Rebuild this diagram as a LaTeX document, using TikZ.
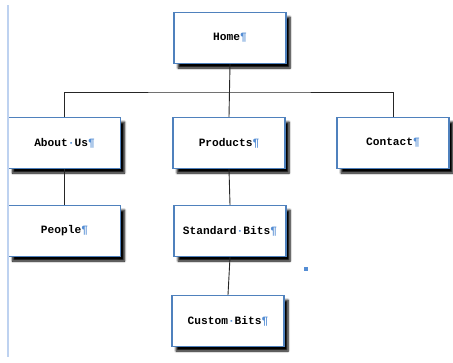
\documentclass[tikz,border=0pt]{standalone}
\usepackage{fontspec}
\setmonofont{Liberation Mono}
\usepackage{tikz}
\usetikzlibrary{shadows.blur}
\definecolor{boxblue}{RGB}{79,129,189}
\definecolor{markblue}{RGB}{84,141,212}
\definecolor{marginblue}{RGB}{190,210,240}
\newcommand{\spmark}{{\color{markblue}\textperiodcentered}}
\newcommand{\parmark}{{\color{markblue}\P}}

\begin{document}
\begin{tikzpicture}[x=1pt,y=-1pt,
    page/.style={draw=boxblue,line width=1.3pt,fill=white,minimum width=112pt,minimum height=51pt,
      font=\ttfamily\bfseries\fontsize{11.2}{13}\selectfont,
      blur shadow={shadow xshift=4pt,shadow yshift=-4.5pt,shadow blur radius=2pt,shadow opacity=100,shadow blur steps=6}},
    link/.style={line width=0.9pt,black!85}]
    \useasboundingbox (0,0) rectangle (453,362);
    \node[page] (home) at (230,38) {Home\parmark};
    \node[page] (about) at (64.5,143) {About\spmark Us\parmark};
    \node[page] (products) at (229,143) {Products\parmark};
    \node[page] (contact) at (393,143) {Contact\parmark};
    \node[page] (people) at (64.5,231) {People\parmark};
    \node[page] (standard) at (230,231) {Standard\spmark Bits\parmark};
    \node[page] (custom) at (228,321) {Custom\spmark Bits\parmark};
    \coordinate (bus) at (230,92);
    \draw[link] (home.south) -- (products.north);
    \draw[link] (about.north) |- (bus) -| (contact.north);
    \draw[link] (about.south) -- (people.north);
    \draw[link] (products.south) -- (standard.north);
    \draw[link] (standard.south) -- (custom.north);
    \draw[marginblue,line width=1.2pt] (8,5) -- (8,357);
    \fill[markblue] (304,267) rectangle (308,271);
\end{tikzpicture}
\end{document}
